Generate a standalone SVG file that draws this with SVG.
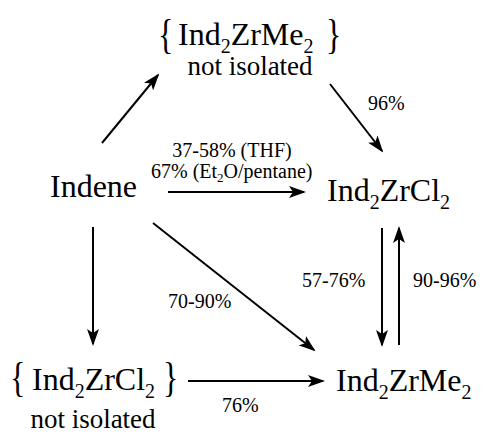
<svg xmlns="http://www.w3.org/2000/svg" width="483" height="435" viewBox="0 0 483 435" font-family="'Liberation Serif', 'Times New Roman', serif">
<style>
text{font-family:'Liberation Serif','Times New Roman',serif;fill:#000}
.big{font-size:32px}
.mid{font-size:27px}
.sm{font-size:20px}
.br{font-size:32px}
.sub{font-size:20px}
.c line{stroke:#000;stroke-width:2;marker-end:url(#ah)}
</style>
<defs>
<marker id="ah" markerWidth="17" markerHeight="12" refX="15" refY="6" orient="auto" markerUnits="userSpaceOnUse">
<path d="M0,0 L17,6 L0,12 L4,6 z" fill="#000"/>
</marker>
</defs>
<rect width="483" height="435" fill="#fff"/>
<g id="top">
<text class="br" transform="translate(158,48) scale(1,1.3)">{</text>
<text class="big" x="178" y="45">Ind<tspan class="sub" dy="8">2</tspan><tspan dy="-8">ZrMe</tspan><tspan class="sub" dy="8">2</tspan></text>
<text class="br" transform="translate(326,48) scale(1,1.3)">}</text>
<text class="mid" x="250" y="75" text-anchor="middle">not isolated</text>
</g>
<g id="indene"><text class="big" x="50" y="197">Indene</text></g>
<g id="cl2"><text class="big" x="327" y="201">Ind<tspan class="sub" dy="8">2</tspan><tspan dy="-8">ZrCl</tspan><tspan class="sub" dy="8">2</tspan></text></g>
<g id="botleft">
<text class="br" transform="translate(10,391) scale(1,1.3)">{</text>
<text class="big" x="32" y="390">Ind<tspan class="sub" dy="8">2</tspan><tspan dy="-8">ZrCl</tspan><tspan class="sub" dy="8">2</tspan></text>
<text class="br" transform="translate(163,391) scale(1,1.3)">}</text>
<text class="mid" x="93" y="428" text-anchor="middle">not isolated</text>
</g>
<g id="me2"><text class="big" x="336" y="391">Ind<tspan class="sub" dy="8">2</tspan><tspan dy="-8">ZrMe</tspan><tspan class="sub" dy="8">2</tspan></text></g>
<g class="c" id="connectors">
<line x1="102" y1="143" x2="158" y2="75"/>
<line x1="330" y1="84" x2="382" y2="151"/>
<line x1="168" y1="192" x2="304" y2="192"/>
<line x1="93" y1="227" x2="93" y2="344"/>
<line x1="153" y1="223" x2="314" y2="350"/>
<line x1="382" y1="228" x2="382" y2="345"/>
<line x1="399" y1="345" x2="399" y2="228"/>
<line x1="188" y1="381" x2="323" y2="381"/>
</g>
<g id="labels">
<text class="sm" x="368" y="110">96%</text>
<text class="sm" x="232" y="157" text-anchor="middle">37-58% (THF)</text>
<text class="sm" x="151" y="178">67% (Et<tspan font-size="13" dy="4">2</tspan><tspan dy="-4">O/pentane)</tspan></text>
<text class="sm" x="168" y="308">70-90%</text>
<text class="sm" x="302" y="287">57-76%</text>
<text class="sm" x="413" y="287">90-96%</text>
<text class="sm" x="222" y="412">76%</text>
</g>
</svg>
